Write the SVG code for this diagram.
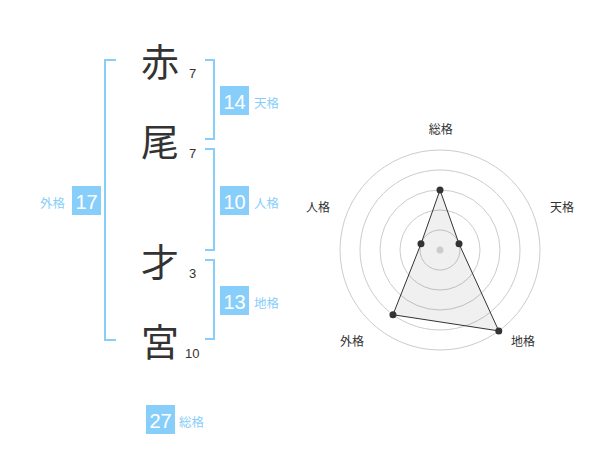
<svg xmlns="http://www.w3.org/2000/svg" width="600" height="470" viewBox="0 0 600 470">
<style>
.kanji{font-family:"Noto Sans CJK JP","Noto Sans CJK SC",sans-serif;font-size:38px;fill:#333;text-anchor:middle}
.num{font-family:"Liberation Sans",Arial,sans-serif;font-size:13px;fill:#333}
.br{fill:none;stroke:#87cefa;stroke-width:2}
.box{fill:#87cefa}
.bt{font-family:"Liberation Sans",Arial,sans-serif;font-size:20px;fill:#fff;text-anchor:middle}
.lb{font-family:"Noto Sans CJK JP","Noto Sans CJK SC",sans-serif;font-size:12.5px;fill:#87cefa}
.ring{fill:none;stroke:#cccccc;stroke-width:1}
.ax{font-family:"Noto Sans CJK JP","Noto Sans CJK SC",sans-serif;font-size:12px;fill:#333;text-anchor:middle}
</style>
<rect width="600" height="470" fill="#fff"/>
<g id="name">
<text class="kanji" x="160" y="76">赤</text>
<text class="num" x="189" y="78">7</text>
<text class="kanji" x="160" y="156">尾</text>
<text class="num" x="189" y="158">7</text>
<text class="kanji" x="160" y="276">才</text>
<text class="num" x="189" y="278">3</text>
<text class="kanji" x="160" y="356">宮</text>
<text class="num" x="185" y="358">10</text>
</g>
<g id="connectors">
<path class="br" d="M116,60 H105 V340 H116"/>
<path class="br" d="M205,60 H214 V139 H205"/>
<path class="br" d="M205,149 H214 V250 H205"/>
<path class="br" d="M205,260 H214 V339 H205"/>
</g>
<g id="tenkaku">
<rect class="box" x="220" y="86" width="29" height="29"/>
<text class="bt" x="234.5" y="108.5">14</text>
<text class="lb" x="254" y="107.5">天格</text>
</g>
<g id="jinkaku">
<rect class="box" x="220" y="186" width="29" height="29"/>
<text class="bt" x="234.5" y="208.5">10</text>
<text class="lb" x="254" y="207.5">人格</text>
</g>
<g id="chikaku">
<rect class="box" x="220" y="286" width="29" height="29"/>
<text class="bt" x="234.5" y="308.5">13</text>
<text class="lb" x="254" y="307.5">地格</text>
</g>
<g id="gaikaku">
<rect class="box" x="72" y="186" width="29" height="29"/>
<text class="bt" x="86.5" y="208.5">17</text>
<text class="lb" x="40" y="207.5">外格</text>
</g>
<g id="soukaku">
<rect class="box" x="146" y="405" width="29" height="29"/>
<text class="bt" x="160.5" y="427.5">27</text>
<text class="lb" x="179" y="426.5">総格</text>
</g>
<g id="radar">
<circle class="ring" cx="440" cy="250" r="20"/>
<circle class="ring" cx="440" cy="250" r="40"/>
<circle class="ring" cx="440" cy="250" r="60"/>
<circle class="ring" cx="440" cy="250" r="80"/>
<circle class="ring" cx="440" cy="250" r="100"/>
<polygon points="440,190 459.02,243.82 498.78,330.9 392.98,314.72 420.98,243.82" fill="#000" fill-opacity="0.06" stroke="#333" stroke-width="1"/>
<circle cx="440" cy="250" r="3.5" fill="#ccc"/>
<g fill="#333">
<circle cx="440" cy="190" r="3.5"/>
<circle cx="459.02" cy="243.82" r="3.5"/>
<circle cx="498.78" cy="330.9" r="3.5"/>
<circle cx="392.98" cy="314.72" r="3.5"/>
<circle cx="420.98" cy="243.82" r="3.5"/>
</g>
<text class="ax" x="440.7" y="134">総格</text>
<text class="ax" x="562" y="212">天格</text>
<text class="ax" x="523" y="346">地格</text>
<text class="ax" x="352" y="346">外格</text>
<text class="ax" x="318" y="212">人格</text>
</g>
</svg>
